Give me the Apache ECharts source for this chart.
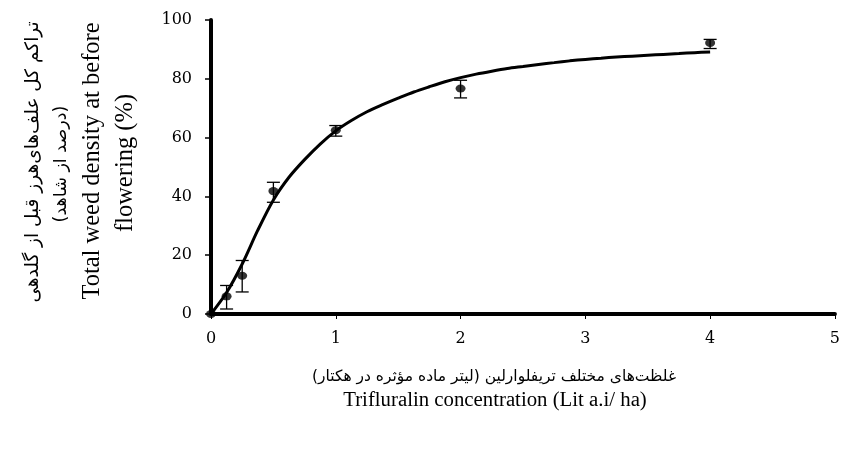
<!DOCTYPE html>
<html>
<head>
<meta charset="utf-8">
<script src="https://cdn.jsdelivr.net/npm/echarts@6/dist/echarts.min.js"></script>
<style>
html,body{margin:0;padding:0;background:#fff;}
#c{width:843px;height:454px;}
</style>
</head>
<body>
<div id="c"></div>
<script>
// Observed points (concentration, % of control) with error bar ends
var concX = [0, 0.125, 0.25, 0.5, 1, 2, 4];
var meanY = [0, 6.0, 13.0, 41.8, 62.5, 76.7, 92.2];
var errHigh = [null, 9.7, 18.2, 44.8, 64.1, 79.5, 93.4];
var errLow = [null, 1.7, 7.5, 38.0, 60.5, 73.5, 90.3];

// Fitted curve (every 0.125 unit)
var curveX = [0, 0.125, 0.25, 0.375, 0.5, 0.625, 0.75, 0.875, 1,
  1.125, 1.25, 1.375, 1.5, 1.625, 1.75, 1.875, 2,
  2.125, 2.25, 2.375, 2.5, 2.625, 2.75, 2.875, 3,
  3.125, 3.25, 3.375, 3.5, 3.625, 3.75, 3.875, 4];
var curveY = [0, 7.3, 17.0, 28.5, 38.8, 46.5, 52.5, 57.8, 62.3,
  65.8, 68.8, 71.2, 73.4, 75.5, 77.3, 79.0, 80.4,
  81.6, 82.6, 83.5, 84.2, 84.9, 85.5, 86.1, 86.6,
  87.0, 87.4, 87.7, 88.0, 88.3, 88.6, 88.9, 89.1];

var xTicks = [0, 1, 2, 3, 4, 5];
var yTicks = [0, 20, 40, 60, 80, 100];

var yTitleFa1 = 'تراکم کل علف‌های‌هرز قبل از گلدهی';
var yTitleFa2 = '(درصد از شاهد)';
var yTitleEn1 = 'Total weed density at before';
var yTitleEn2 = 'flowering (%)';
var xTitleFa = 'غلظت‌های مختلف تریفلوارلین (لیتر ماده مؤثره در هکتار)';
var xTitleEn = 'Trifluralin concentration (Lit a.i/ ha)';

var chart = echarts.init(document.getElementById('c'), null, {renderer: 'canvas'});

var pts = concX.map(function (x, i) { return [x, meanY[i]]; });
var bars = [];
concX.forEach(function (x, i) {
  if (errHigh[i] != null) bars.push([x, errLow[i], errHigh[i]]);
});
var curve = curveX.map(function (x, i) { return [x, curveY[i]]; });

var serif = '"Liberation Serif", "Times New Roman", serif';
var tickFont = '"DejaVu Serif", serif';
var fa = '"DejaVu Sans", "Noto Sans", sans-serif';

chart.setOption({
  animation: false,
  backgroundColor: '#fff',
  grid: {left: 211, right: 0, top: 20, bottom: 140, containLabel: false},
  xAxis: {
    type: 'value', min: xTicks[0], max: xTicks[xTicks.length - 1], interval: 1,
    axisLine: {show: true, onZero: false, lineStyle: {color: '#000', width: 4}},
    axisTick: {show: true, length: 5, lineStyle: {color: '#000', width: 1}},
    axisLabel: {color: '#000', fontFamily: tickFont, fontSize: 16, margin: 17},
    splitLine: {show: false}
  },
  yAxis: {
    type: 'value', min: yTicks[0], max: yTicks[yTicks.length - 1], interval: 20,
    axisLine: {show: true, lineStyle: {color: '#000', width: 4}},
    axisTick: {show: true, length: 6, lineStyle: {color: '#000', width: 1.5}},
    axisLabel: {color: '#000', fontFamily: tickFont, fontSize: 16, margin: 19},
    splitLine: {show: false}
  },
  series: [
    {
      type: 'line', data: curve, smooth: 0.3, showSymbol: false, symbol: 'none',
      lineStyle: {color: '#000', width: 3}, z: 2
    },
    {
      type: 'custom', data: bars, z: 3,
      renderItem: function (params, api) {
        var x = api.value(0);
        var lo = api.coord([x, api.value(1)]);
        var hi = api.coord([x, api.value(2)]);
        var hw = 6.5;
        var st = {stroke: '#000', lineWidth: 1.3, fill: null};
        return {
          type: 'group',
          children: [
            {type: 'line', shape: {x1: lo[0], y1: lo[1], x2: hi[0], y2: hi[1]}, style: st},
            {type: 'line', shape: {x1: lo[0] - hw, y1: lo[1], x2: lo[0] + hw, y2: lo[1]}, style: st},
            {type: 'line', shape: {x1: hi[0] - hw, y1: hi[1], x2: hi[0] + hw, y2: hi[1]}, style: st}
          ]
        };
      }
    },
    {
      type: 'scatter', data: pts, symbol: 'circle', symbolSize: [10, 8],
      itemStyle: {color: '#000'}, z: 4
    }
  ],
  graphic: [
    {type: 'text', x: 33, y: 162, rotation: Math.PI / 2,
     style: {text: yTitleFa1, font: '18.5px ' + fa, fill: '#000', textAlign: 'center', textVerticalAlign: 'middle'}},
    {type: 'text', x: 61, y: 164, rotation: Math.PI / 2,
     style: {text: yTitleFa2, font: '17.5px ' + fa, fill: '#000', textAlign: 'center', textVerticalAlign: 'middle'}},
    {type: 'text', x: 93, y: 161, rotation: Math.PI / 2,
     style: {text: yTitleEn1, font: '24.5px ' + serif, fill: '#000', textAlign: 'center', textVerticalAlign: 'middle'}},
    {type: 'text', x: 126, y: 163, rotation: Math.PI / 2,
     style: {text: yTitleEn2, font: '24.5px ' + serif, fill: '#000', textAlign: 'center', textVerticalAlign: 'middle'}},
    {type: 'text', x: 494, y: 377,
     style: {text: xTitleFa, font: '15.5px ' + fa, fill: '#000', textAlign: 'center', textVerticalAlign: 'middle'}},
    {type: 'text', x: 495, y: 401,
     style: {text: xTitleEn, font: '20.8px ' + serif, fill: '#000', textAlign: 'center', textVerticalAlign: 'middle'}}
  ]
});
</script>
</body>
</html>
